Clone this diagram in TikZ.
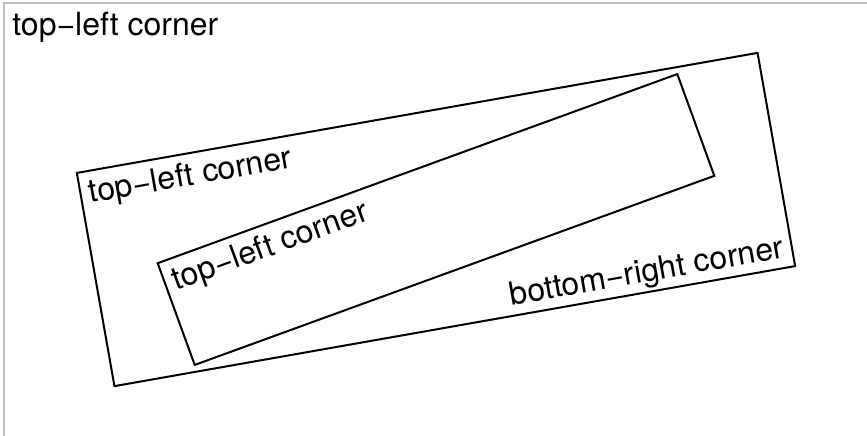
\documentclass[tikz,border=0pt]{standalone}
\usepackage{fontspec}
\setmainfont{TeX Gyre Heros}
\definecolor{vpgray}{HTML}{BEBEBE}

\begin{document}
\begin{tikzpicture}[x=0.5pt,y=-0.5pt,
    vp/.style={draw=black,line width=1pt},
    lbl/.style={inner sep=0pt,font=\fontsize{16}{19}\selectfont,transform shape}]
  \useasboundingbox (0,0) rectangle (867,435);
  \clip (0,0) rectangle (867,435);
  % root viewport (runs past the page on the right and bottom)
  \draw[draw=vpgray,line width=1pt] (4,3) rectangle (874,442);
  \node[lbl,anchor=base west] (tl0) at (12,35) {top−left corner};
  \begin{scope}[shift={(436,219.5)},rotate=10]
    \draw[vp] (-345.6,-108.25) rectangle (345.6,108.25);
    \node[lbl,anchor=base west] (tl1) at (-337.6,-76.25) {top−left corner};
    \node[lbl,anchor=base east] (br1) at (337.6,97.75) {bottom−right corner};
    % nested viewport
    \begin{scope}[rotate=10]
      \draw[vp] (-276.48,-54.125) rectangle (276.48,54.125);
      \node[lbl,anchor=base west] (tl2) at (-268.48,-22.125) {top−left corner};
    \end{scope}
  \end{scope}
\end{tikzpicture}
\end{document}
